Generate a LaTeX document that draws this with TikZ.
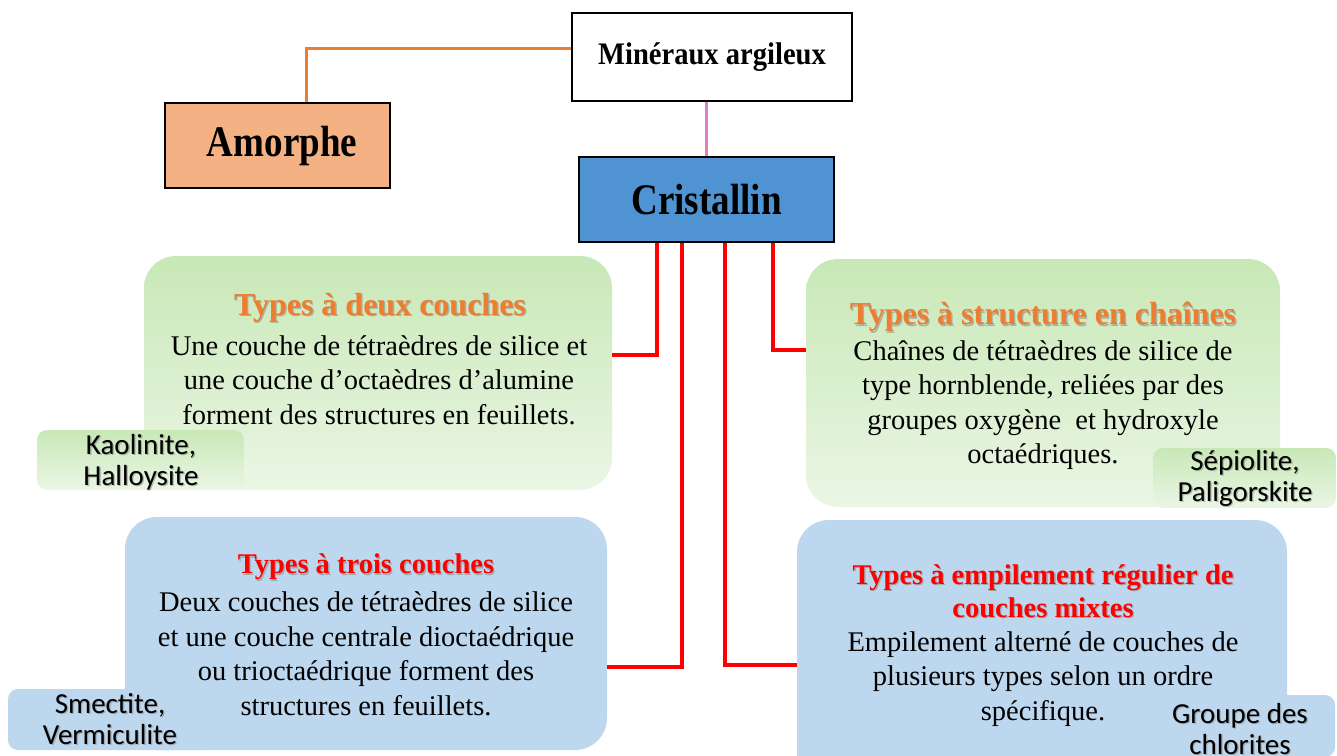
\documentclass[tikz,border=0pt]{standalone}
\usepackage{fontspec}
\setmainfont{Liberation Serif}
\newfontfamily\calibrifont{Carlito}
\usetikzlibrary{positioning}

\definecolor{amorphefill}{HTML}{F4B183}
\definecolor{cristfill}{HTML}{4F93D3}
\definecolor{linkorange}{HTML}{ED7D31}
\definecolor{linkpink}{HTML}{E07CC8}
\definecolor{greentop}{HTML}{C8E8B6}
\definecolor{greenbot}{HTML}{EBF6E5}
\definecolor{bluefill}{HTML}{BDD7EE}
\definecolor{headorange}{HTML}{ED7D31}

\tikzset{
  sqbox/.style={draw=black, line width=1.4pt, inner sep=0pt, align=center},
  greenpanel/.style={rounded corners=32pt, top color=greentop, bottom color=greenbot, draw=none, inner sep=0pt},
  bluepanel/.style={rounded corners=32pt, fill=bluefill, draw=none, inner sep=0pt},
  greentag/.style={rounded corners=10pt, top color=greentop, bottom color=greenbot, draw=none, inner sep=0pt},
  bluetag/.style={rounded corners=10pt, fill=bluefill, draw=none, inner sep=0pt},
  tagtext/.style={font=\calibrifont\fontsize{29}{31}\selectfont, align=center, inner sep=0pt},
  bodytext/.style={font=\fontsize{28.5}{34.5}\selectfont, align=center, inner sep=0pt},
  greenhead/.style={font=\bfseries\fontsize{32}{34}\selectfont, text=headorange, inner sep=0pt},
  bluehead/.style={font=\bfseries\fontsize{28.5}{33}\selectfont, text=red, align=center, inner sep=0pt},
  softshadow/.style={text=black!45, xshift=1.3pt, yshift=-1.3pt, opacity=0.6},
  redlink/.style={draw=red, line width=4pt},
}
% vertically stretched bold titles
\newcommand{\tallbold}[2][0.93]{\scalebox{#1}[1.12]{#2}}

\begin{document}
\begin{tikzpicture}[x=1pt, y=-1pt]
\useasboundingbox (0,0) rectangle (1337,755);
\clip (0,0) rectangle (1337,755);

% top of the hierarchy
\node[sqbox, fill=white, minimum width=280pt, minimum height=88pt,
      font=\bfseries\fontsize{28}{30}\selectfont] (mineraux) at (712,57) {\raisebox{-2pt}{\tallbold[1.02]{Minéraux argileux}}};
\node[sqbox, fill=amorphefill, minimum width=225pt, minimum height=85pt,
      font=\bfseries\fontsize{39}{40}\selectfont] (amorphe) at (277.5,145.5) {\hspace*{9pt}\raisebox{-5pt}{\tallbold[0.95]{Amorphe}}};
\node[sqbox, fill=cristfill, minimum width=255pt, minimum height=85pt,
      font=\bfseries\fontsize{39}{40}\selectfont] (cristallin) at (706.5,199.5) {\raisebox{-3pt}{\tallbold[0.95]{Cristallin}}};

% panels
\node[greenpanel, minimum width=468pt, minimum height=234pt] (deux) at (378,373) {};
\node[greenpanel, minimum width=474pt, minimum height=248pt] (chaines) at (1043,383) {};
\node[bluepanel, minimum width=482pt, minimum height=233pt] (trois) at (366,633.5) {};
\node[bluepanel, minimum width=490pt, minimum height=265pt] (mixtes) at (1042,652.5) {};

% connectors
\draw[linkorange, line width=3pt] ([xshift=28.5pt]amorphe.north) |- ([yshift=9pt]mineraux.west);
\draw[linkpink, line width=3pt] (cristallin.north |- mineraux.south) -- (cristallin.north);
\draw[redlink] ([xshift=-49.5pt]cristallin.south) |- ([yshift=18pt]deux.east);
\draw[redlink] ([xshift=-24.5pt]cristallin.south) |- ([yshift=-33.5pt]trois.east);
\draw[redlink] ([xshift=18.5pt]cristallin.south) |- ([yshift=-12.5pt]mixtes.west);
\draw[redlink] ([xshift=66.5pt]cristallin.south) |- ([yshift=33pt]chaines.west);

% panel headings (with soft shadow) and body texts
\node[greenhead, softshadow] (deuxS) at (380,308) {Types à deux couches};
\node[greenhead] (deuxT) at (380,308) {Types à deux couches};
\node[bodytext] (deuxB) at (379,380) {Une couche de tétraèdres de silice et\\une couche d’octaèdres d’alumine\\forment des structures en feuillets.};

\node[greenhead, softshadow] (chainesS) at (1043,317) {Types à structure en chaînes};
\node[greenhead] (chainesT) at (1043,317) {Types à structure en chaînes};
\node[bodytext] (chainesB) at (1043,405) {Chaînes de tétraèdres de silice de\\type hornblende, reliées par des\\groupes oxygène\ \ et hydroxyle\\octaédriques.};

\node[bluehead, softshadow] (troisS) at (366,567) {Types à trois couches};
\node[bluehead] (troisT) at (366,567) {Types à trois couches};
\node[bodytext] (troisB) at (366,654) {Deux couches de tétraèdres de silice\\et une couche centrale dioctaédrique\\ou trioctaédrique forment des\\structures en feuillets.};

\node[bluehead, softshadow] (mixtesS) at (1043,591) {Types à empilement régulier de\\couches mixtes};
\node[bluehead] (mixtesT) at (1043,591) {Types à empilement régulier de\\couches mixtes};
\node[bodytext] (mixtesB) at (1043,679) {Empilement alterné de couches de\\plusieurs types selon un ordre\\spécifique.};

% example tags
\node[greentag, minimum width=207pt, minimum height=60pt] (kao) at (140.5,460) {};
\node[tagtext, softshadow] (kaoS) at (141,462) {Kaolinite,\\Halloysite};
\node[tagtext] (kaoT) at (141,462) {Kaolinite,\\Halloysite};
\node[greentag, minimum width=183pt, minimum height=60pt] (sep) at (1244.5,478) {};
\node[tagtext, softshadow] (sepS) at (1245,478) {Sépiolite,\\Paligorskite};
\node[tagtext] (sepT) at (1245,478) {Sépiolite,\\Paligorskite};
\node[bluetag, minimum width=204pt, minimum height=61pt] (sme) at (110,719.5) {};
\node[tagtext, softshadow] (smeS) at (110,719) {Smectite,\\Vermiculite};
\node[tagtext] (smeT) at (110,719) {Smectite,\\Vermiculite};
\node[bluetag, minimum width=190pt, minimum height=62pt] (chl) at (1240,726) {};
\node[tagtext, softshadow] (chlS) at (1240,729) {Groupe des\\chlorites};
\node[tagtext] (chlT) at (1240,729) {Groupe des\\chlorites};
\end{tikzpicture}
\end{document}
